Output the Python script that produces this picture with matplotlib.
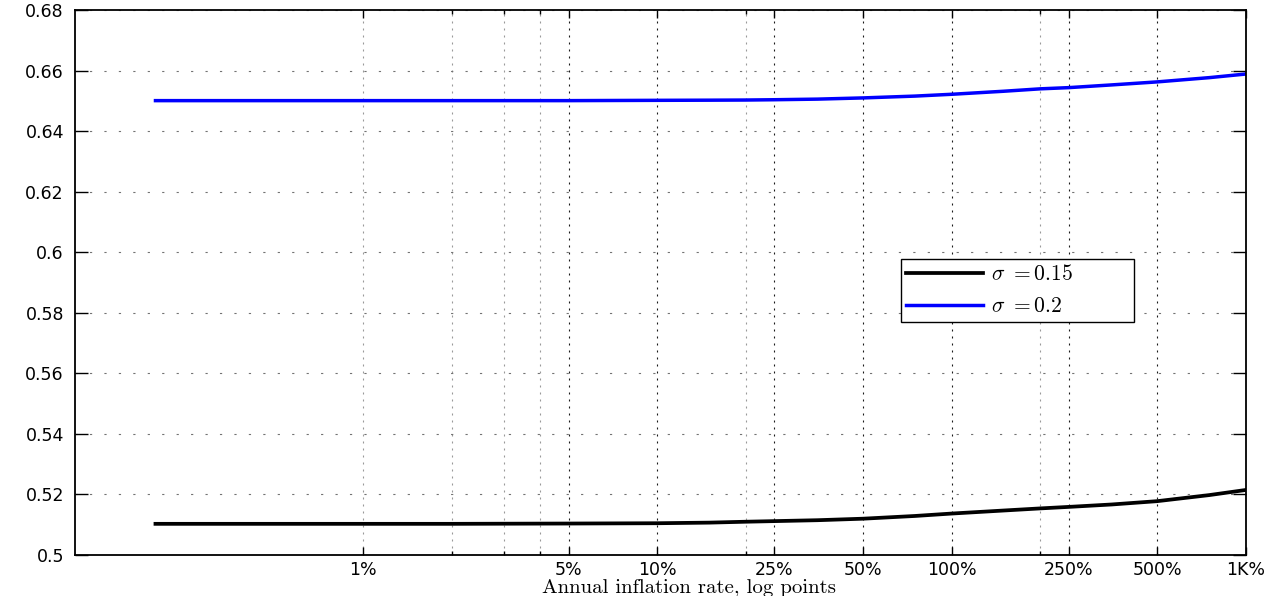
import matplotlib
matplotlib.use("Agg")
import matplotlib.pyplot as plt
from matplotlib.ticker import FixedLocator, FixedFormatter, NullFormatter

plt.rcParams['mathtext.fontset'] = 'cm'

# inflation rate, percent (log axis)
inflation = [0.197, 1, 2, 5, 10, 15, 20, 25, 35, 50, 75, 100, 150, 200, 250,
             350, 500, 750, 1000]
# sigma = 0.15
y_015 = [0.5103, 0.5103, 0.5103, 0.5104, 0.5105, 0.5107, 0.5110, 0.5112,
         0.5115, 0.5120, 0.5129, 0.5137, 0.5147, 0.5154, 0.5159,
         0.5167, 0.5178, 0.5198, 0.5215]
# sigma = 0.2
y_020 = [0.6502, 0.6502, 0.6502, 0.6502, 0.6503, 0.65035, 0.6504, 0.6505,
         0.6507, 0.6511, 0.6517, 0.6523, 0.6533, 0.6541, 0.6545,
         0.6554, 0.6564, 0.6578, 0.6590]

xticks = [1, 5, 10, 25, 50, 100, 250, 500, 1000]
xtick_labels = ['1%', '5%', '10%', '25%', '50%', '100%', '250%', '500%', '1K%']
xminor = [2, 3, 4, 20, 200]
yticks = [0.5, 0.52, 0.54, 0.56, 0.58, 0.6, 0.62, 0.64, 0.66, 0.68]
ytick_labels = ['0.5', '0.52', '0.54', '0.56', '0.58', '0.6', '0.62',
                '0.64', '0.66', '0.68']

fig = plt.figure(figsize=(12.83, 5.96), dpi=100)
ax = fig.add_axes([0.0585, 0.0688, 0.9126, 0.9136])

ax.plot(inflation, y_015, color='black', lw=2.7, label=r'$\sigma\ =0.15$')
ax.plot(inflation, y_020, color='#0000ff', lw=2.5, label=r'$\sigma\ =0.2$')

ax.set_xscale('log')
ax.set_xlim(0.105, 1000)
ax.set_ylim(0.5, 0.68)

ax.xaxis.set_major_locator(FixedLocator(xticks))
ax.xaxis.set_major_formatter(FixedFormatter(xtick_labels))
ax.xaxis.set_minor_locator(FixedLocator(xminor))
ax.xaxis.set_minor_formatter(NullFormatter())
ax.yaxis.set_major_locator(FixedLocator(yticks))
ax.yaxis.set_major_formatter(FixedFormatter(ytick_labels))

ax.tick_params(axis='both', which='both', direction='in', top=True, right=True,
               labelsize=12.5, width=1.0)
ax.tick_params(axis='x', which='major', length=5.8, pad=4)
ax.tick_params(axis='x', which='minor', length=3)
ax.tick_params(axis='y', which='major', length=9.4, pad=8)
for lab in ax.get_xticklabels() + ax.get_yticklabels():
    lab.set_family('DejaVu Sans')

# grids: MATLAB-style dotted
ax.yaxis.grid(True, which='major', color='0.45', lw=0.8, linestyle=(0, (2, 11)))
ax.xaxis.grid(True, which='major', color='0.1', lw=0.8, linestyle=(0, (1.8, 4.5)))
ax.xaxis.grid(True, which='minor', color='0.6', lw=0.8, linestyle=(0, (1.8, 4.5)))
ax.xaxis.get_major_ticks()[0].gridline.set_color('0.6')

for sp in ax.spines.values():
    sp.set_linewidth(1.3)

ax.set_xlabel('Annual inflation rate, log points', family='cmr10', fontsize=15)
ax.xaxis.set_label_coords(0.524, -0.0445)

leg = ax.legend(loc='upper left', bbox_to_anchor=(0.705, 0.4224, 0.199, 0.1212),
                mode='expand', fontsize=15.5, handlelength=3.6, handletextpad=0.35,
                borderpad=0.25, labelspacing=0.55, borderaxespad=0,
                fancybox=False, framealpha=1, edgecolor='black')
leg.get_frame().set_linewidth(1.0)

fig.savefig('out.png', dpi=100)
